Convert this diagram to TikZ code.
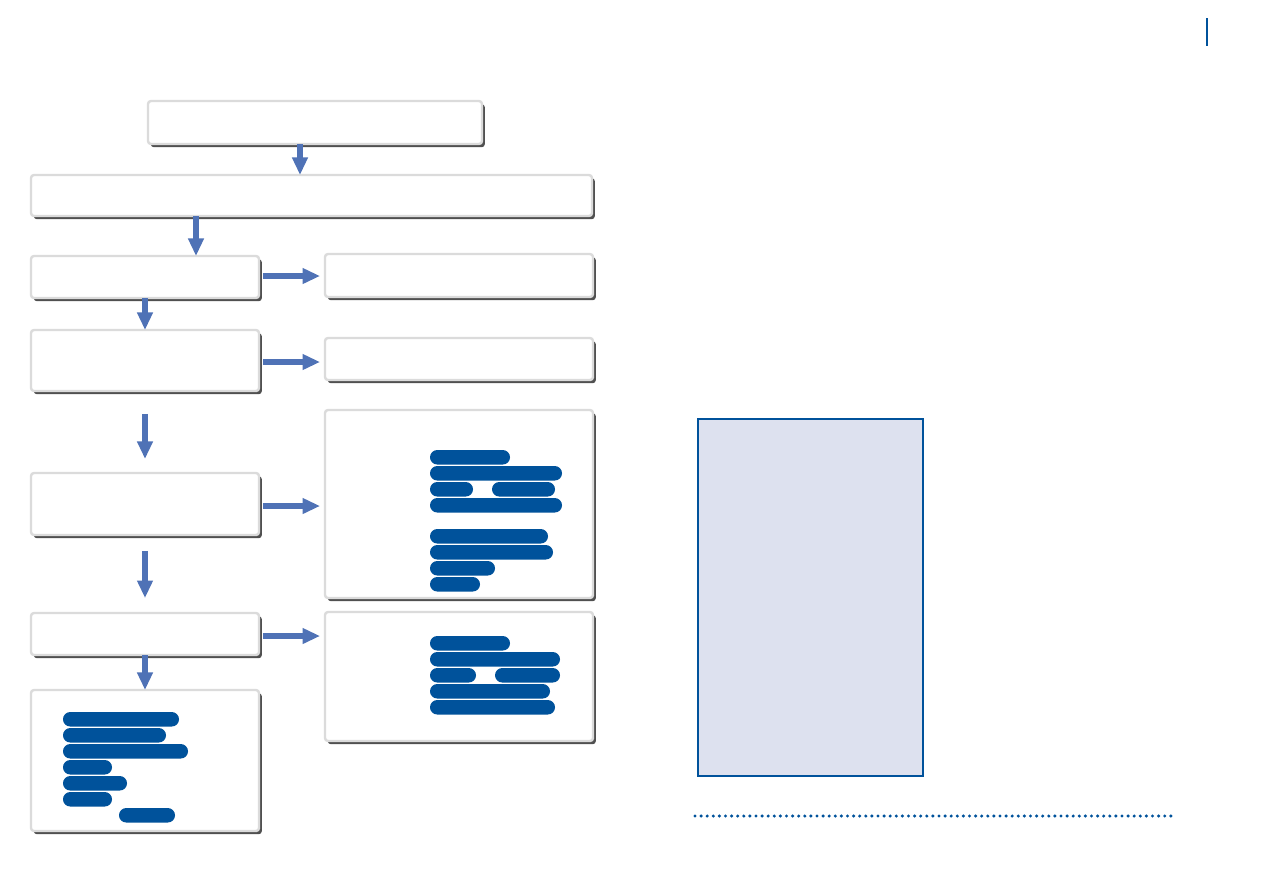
\documentclass[tikz,border=0pt]{standalone}
\usetikzlibrary{arrows.meta,shadows}

\newlength{\pxu}
\setlength{\pxu}{0.02cm}

\definecolor{flowblue}{RGB}{79,114,182}
\definecolor{barblue}{RGB}{0,82,155}
\definecolor{panelfill}{RGB}{221,225,239}

\begin{document}
\begin{tikzpicture}[
            x=0.02cm, y=-0.02cm,
            box/.style={rectangle, draw=black!14, line width=2.4\pxu, fill=white, rounded corners=3\pxu,
                        inner sep=0pt, outer sep=0pt, minimum width=228\pxu,
                        drop shadow={shadow xshift=2.8\pxu, shadow yshift=-3.2\pxu, fill=black!72, opacity=0.95}},
            widebox/.style={box, minimum width=268\pxu},
            flow/.style={-{Triangle[length=10pt, width=8.5pt]}, draw=flowblue, line width=3.4pt},
            bar/.style={fill=barblue, rounded corners=7.2\pxu},
            panel/.style={rectangle, draw=barblue, line width=1.6\pxu, fill=panelfill, inner sep=0pt},
            dotline/.style={draw=barblue, line width=3.4\pxu, line cap=round, dash pattern=on 0pt off 6.1\pxu}
        ]
        \useasboundingbox (0,0) rectangle (1263,893);

        % Nodes -- left column
        \node[box, minimum width=334\pxu, minimum height=43\pxu] (start) at (315,122.5) {};
        \node[box, minimum width=561\pxu, minimum height=41\pxu] (overview) at (311.5,195.5) {};
        \node[box, minimum height=42\pxu] (stepA) at (145,277) {};
        \node[box, minimum height=61\pxu] (stepB) at (145,360.5) {};
        \node[box, minimum height=62\pxu] (stepC) at (145,504) {};
        \node[box, minimum height=42\pxu] (stepD) at (145,634) {};
        \node[box, minimum height=141\pxu] (stepE) at (145,760.5) {};

        % Nodes -- right column
        \node[widebox, minimum height=43\pxu] (outA) at (459,275.5) {};
        \node[widebox, minimum height=42\pxu] (outB) at (459,359) {};
        \node[widebox, minimum height=188\pxu] (outC) at (459,504) {};
        \node[widebox, minimum height=129\pxu] (outD) at (459,676.5) {};

        % Side panel
        \node[panel, minimum width=225\pxu, minimum height=357\pxu] (sidebar) at (810.5,597.5) {};

        % === vertical flow ===
        \draw[flow] (start.south -| 300,0) -- (overview.north -| 300,0);
        \draw[flow] (overview.south -| 196,0) -- (stepA.north -| 196,0);
        \draw[flow] (stepA.south) -- (stepB.north);
        \draw[flow, shorten <=13pt, shorten >=8pt] (stepB.south) -- (stepC.north);
        \draw[flow, shorten <=9pt, shorten >=8.5pt] (stepC.south) -- (stepD.north);
        \draw[flow] (stepD.south) -- (stepE.north);

        % === side outputs ===
        \draw[flow, shorten <=2.3pt, shorten >=2.8pt] (stepA.east |- 0,276) -- (outA.west |- 0,276);
        \draw[flow, shorten <=2.3pt, shorten >=2.8pt] (stepB.east |- 0,362) -- (outB.west |- 0,362);
        \draw[flow, shorten <=2.3pt, shorten >=2.8pt] (stepC.east |- 0,506) -- (outC.west |- 0,506);
        \draw[flow, shorten <=2.3pt, shorten >=2.8pt] (stepD.east |- 0,636) -- (outD.west |- 0,636);

        % Bars in outC
        \fill[bar] (430,450) rectangle (510,464.5);
        \fill[bar] (430,466) rectangle (562,480.5);
        \fill[bar] (430,482) rectangle (473,496.5);
        \fill[bar] (492,482) rectangle (555,496.5);
        \fill[bar] (430,498) rectangle (562,512.5);
        \fill[bar] (430,529) rectangle (548,543.5);
        \fill[bar] (430,545) rectangle (553,559.5);
        \fill[bar] (430,561) rectangle (495,575.5);
        \fill[bar] (430,577) rectangle (480,591.5);

        % Bars in outD
        \fill[bar] (430,636) rectangle (510,650.5);
        \fill[bar] (430,652) rectangle (560,666.5);
        \fill[bar] (430,668) rectangle (476,682.5);
        \fill[bar] (495,668) rectangle (560,682.5);
        \fill[bar] (430,684) rectangle (550,698.5);
        \fill[bar] (430,700) rectangle (555,714.5);

        % Bars in stepE
        \fill[bar] (63,712) rectangle (179,726.5);
        \fill[bar] (63,728) rectangle (166,742.5);
        \fill[bar] (63,744) rectangle (188,758.5);
        \fill[bar] (63,760) rectangle (112,774.5);
        \fill[bar] (63,776) rectangle (127,790.5);
        \fill[bar] (63,792) rectangle (112,806.5);
        \fill[bar] (119,808) rectangle (175,822.5);

        % Rules
        \draw[dotline] (695,816) -- (1176,816);
        \draw[barblue, line width=1.6\pxu] (1207,18) -- (1207,46);

    \end{tikzpicture}
\end{document}
